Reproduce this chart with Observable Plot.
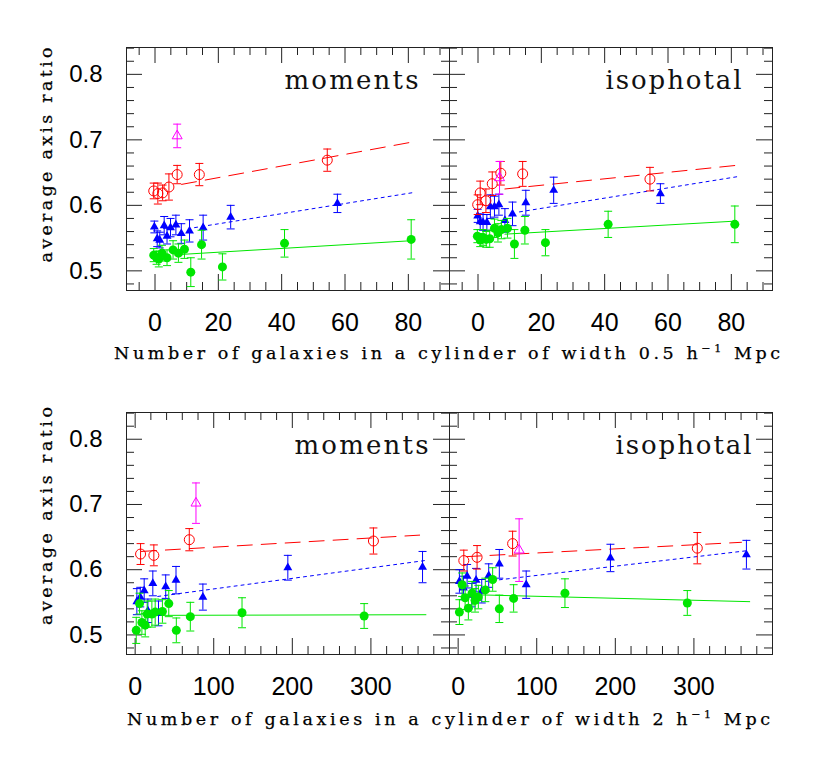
<!DOCTYPE html>
<html><head><meta charset="utf-8">
<script src="https://cdn.jsdelivr.net/npm/d3@7"></script>
<script src="https://cdn.jsdelivr.net/npm/@observablehq/plot@0.6"></script>
<style>body{margin:0;background:#fff}#chart{width:830px}#chart svg{display:block}</style>
</head><body><div id="chart"></div>
<script>
const panels = ["moments", "isophotal"];

// ---- Top row: cylinder of width 0.5 h^-1 Mpc  ([x, y, err]) ----
const top_moments_red = [[-0.4,0.622,0.012],[0.9,0.618,0.016],[2.4,0.619,0.012],[4.4,0.628,0.020],[7.0,0.647,0.014],[14.0,0.647,0.017],[54.4,0.669,0.017]];
const top_moments_magenta = [[7.0,0.706,0.018]];
const top_moments_blue = [[-0.2,0.567,0.009],[0.7,0.549,0.012],[1.5,0.547,0.012],[2.9,0.569,0.014],[3.8,0.553,0.012],[4.9,0.566,0.014],[6.6,0.570,0.015],[8.3,0.557,0.015],[10.9,0.561,0.017],[15.2,0.566,0.019],[23.9,0.582,0.018],[57.6,0.603,0.014]];
const top_moments_green = [[-0.4,0.524,0.010],[0.5,0.520,0.010],[1.2,0.518,0.012],[2.2,0.527,0.012],[3.8,0.520,0.012],[5.7,0.532,0.014],[7.4,0.527,0.014],[9.3,0.533,0.014],[11.3,0.498,0.022],[14.7,0.540,0.022],[21.3,0.506,0.020],[40.9,0.542,0.021],[80.9,0.548,0.030]];
const top_moments_fit_red = [[8.4,0.632],[80.5,0.696]];
const top_moments_fit_blue = [[12.5,0.566],[82.2,0.620]];
const top_moments_fit_green = [[8.1,0.525],[80.9,0.546]];

const top_isophotal_red = [[-0.1,0.601,0.015],[0.7,0.619,0.018],[2.5,0.607,0.018],[4.5,0.633,0.018],[7.2,0.649,0.018],[14.1,0.648,0.019],[54.3,0.640,0.018]];
const top_isophotal_magenta = [[6.8,0.642,0.025]];
const top_isophotal_blue = [[-0.1,0.584,0.010],[0.7,0.575,0.012],[1.6,0.574,0.012],[2.8,0.574,0.012],[3.9,0.598,0.018],[5.2,0.598,0.016],[6.6,0.601,0.016],[8.5,0.577,0.018],[10.9,0.587,0.018],[15.1,0.604,0.019],[23.9,0.623,0.020],[57.6,0.618,0.015]];
const top_isophotal_green = [[-0.2,0.553,0.010],[0.7,0.547,0.010],[1.6,0.551,0.012],[2.6,0.548,0.012],[3.7,0.549,0.013],[5.2,0.565,0.014],[6.3,0.558,0.014],[7.4,0.563,0.014],[9.3,0.565,0.015],[11.5,0.541,0.022],[14.8,0.562,0.021],[21.3,0.543,0.020],[41.1,0.571,0.020],[81.1,0.571,0.028]];
const top_isophotal_fit_red = [[8.5,0.625],[81.5,0.661]];
const top_isophotal_fit_blue = [[13.1,0.590],[82.2,0.644]];
const top_isophotal_fit_green = [[8.5,0.556],[81.5,0.576]];

// ---- Bottom row: cylinder of width 2 h^-1 Mpc ----
const bot_moments_red = [[6.9,0.624,0.016],[23.8,0.622,0.016],[68.9,0.646,0.017],[303.2,0.644,0.020]];
const bot_moments_magenta = [[77.4,0.702,0.031]];
const bot_moments_blue = [[2.2,0.551,0.020],[6.5,0.558,0.015],[11.5,0.568,0.018],[16.2,0.537,0.018],[22.5,0.579,0.019],[29.7,0.533,0.019],[38.9,0.574,0.018],[52.0,0.584,0.021],[86.2,0.558,0.020],[194.3,0.603,0.019],[365.7,0.604,0.024]];
const bot_moments_green = [[1.4,0.507,0.020],[5.6,0.548,0.016],[8.6,0.519,0.018],[12.8,0.515,0.018],[15.3,0.532,0.020],[21.3,0.532,0.020],[25.5,0.535,0.020],[34.7,0.536,0.018],[42.8,0.548,0.020],[52.4,0.507,0.019],[70.2,0.528,0.022],[136.0,0.534,0.023],[291.4,0.529,0.019]];
const bot_moments_fit_red = [[8,0.628],[362,0.653]];
const bot_moments_fit_blue = [[28.8,0.559],[368.6,0.614]];
const bot_moments_fit_green = [[30,0.530],[370,0.531]];

const bot_isophotal_red = [[7.2,0.614,0.016],[24.1,0.619,0.018],[69.3,0.640,0.019],[304.3,0.633,0.024]];
const bot_isophotal_magenta = [[77.6,0.630,0.048]];
const bot_isophotal_blue = [[1.6,0.582,0.018],[6.7,0.572,0.018],[11.4,0.590,0.018],[17.3,0.561,0.018],[22.8,0.584,0.018],[30.0,0.567,0.018],[38.9,0.591,0.018],[52.4,0.609,0.022],[86.6,0.577,0.021],[193.8,0.618,0.021],[366.8,0.623,0.022]];
const bot_isophotal_green = [[1.6,0.535,0.019],[5.1,0.577,0.018],[8.9,0.557,0.018],[13.0,0.541,0.018],[17.7,0.564,0.018],[21.5,0.553,0.018],[25.7,0.558,0.018],[34.6,0.569,0.018],[43.9,0.585,0.018],[52.4,0.540,0.021],[70.6,0.556,0.021],[135.9,0.564,0.022],[291.6,0.549,0.019]];
const bot_isophotal_fit_red = [[10,0.620],[360.5,0.642]];
const bot_isophotal_fit_blue = [[34.7,0.582],[366.8,0.629]];
const bot_isophotal_fit_green = [[8,0.562],[371,0.551]];

// ---- tick values ----
const yMajor = [0.5, 0.6, 0.7, 0.8];
const yMinor = [0.48,0.52,0.54,0.56,0.58,0.62,0.64,0.66,0.68,0.72,0.74,0.76,0.78,0.82,0.84];
const topXMajor = [0, 20, 40, 60, 80];
const topXMinor = [-5,5,10,15,25,30,35,45,50,55,65,70,75,85,90];
const botXMajor = [0, 100, 200, 300];
const botXMinor = [20,40,60,80,120,140,160,180,220,240,260,280,320,340,360,380];

const topTitle = ["Number of galaxies in a cylinder of width 0.5 h", "\u22121", " Mpc"];
const botTitle = ["Number of galaxies in a cylinder of width 2 h", "\u22121", " Mpc"];
const yTitle = "average axis ratio";

const colors = {red: "#ff0000", blue: "#0000ff", green: "#00e600", magenta: "#ff00ff"};

const toPts = (arr, panel) => arr.map(([x, y, e]) => ({panel, x, y, e}));
const toFit = (arr, panel) => arr.map(([x, y]) => ({panel, x, y}));

const capSymbol = {draw(ctx, size) { const r = Math.sqrt(size / Math.PI); ctx.moveTo(-r, 0); ctx.lineTo(r, 0); }};

const W = 830, ML = 126, MR = 58;

function makeRow(cfg) {
  const H = cfg.height - cfg.marginTop - cfg.marginBottom;
  const FW = (W - ML - MR) / 2;
  const ink = "#222";
  const s = cfg.series;
  const pts = k => [...toPts(s.moments[k], "moments"), ...toPts(s.isophotal[k], "isophotal")];
  const fit = k => [...toFit(s.moments["fit_" + k], "moments"), ...toFit(s.isophotal["fit_" + k], "isophotal")];
  const errMarks = (data, c) => [
    Plot.ruleX(data, {x: "x", y1: d => d.y - d.e, y2: d => d.y + d.e, fx: "panel", stroke: c, strokeWidth: 1}),
    Plot.dot(data, {x: "x", y: d => d.y - d.e, fx: "panel", symbol: capSymbol, r: 4, fill: "none", stroke: c, strokeWidth: 1}),
    Plot.dot(data, {x: "x", y: d => d.y + d.e, fx: "panel", symbol: capSymbol, r: 4, fill: "none", stroke: c, strokeWidth: 1})
  ];
  const marks = [
    // inward ticks
    Plot.tickX(cfg.xMinor, {x: d => d, insetTop: H - 8, stroke: ink}),
    Plot.tickX(cfg.xMajor, {x: d => d, insetTop: H - 16, stroke: ink}),
    Plot.tickX(cfg.xMinor, {x: d => d, insetBottom: H - 8, stroke: ink}),
    Plot.tickX(cfg.xMajor, {x: d => d, insetBottom: H - 16, stroke: ink}),
    Plot.tickY(yMinor, {y: d => d, insetRight: FW - 8, stroke: ink}),
    Plot.tickY(yMajor, {y: d => d, insetRight: FW - 16, stroke: ink}),
    Plot.tickY(yMinor, {y: d => d, insetLeft: FW - 8, stroke: ink}),
    Plot.tickY(yMajor, {y: d => d, insetLeft: FW - 16, stroke: ink}),
    Plot.frame({stroke: ink, strokeWidth: 1}),
    Plot.axisX({ticks: cfg.xMajor, tickSize: 0, tickPadding: 23, fontSize: 25, label: null, tickFormat: d => String(d)}),
    Plot.axisY({ticks: yMajor, tickSize: 0, tickPadding: 24, fontSize: 24, label: null, tickFormat: d3.format(".1f")}),
    // fits
    Plot.line(fit("green"), {x: "x", y: "y", fx: "panel", z: "panel", stroke: colors.green, strokeWidth: 1}),
    Plot.line(fit("blue"), {x: "x", y: "y", fx: "panel", z: "panel", stroke: colors.blue, strokeWidth: 1, strokeDasharray: "3,4"}),
    Plot.line(fit("red"), {x: "x", y: "y", fx: "panel", z: "panel", stroke: colors.red, strokeWidth: 1, strokeDasharray: "15,9"}),
    // blue triangles
    ...errMarks(pts("blue"), colors.blue),
    Plot.dot(pts("blue"), {x: "x", y: "y", fx: "panel", symbol: "triangle", r: 3.3, fill: colors.blue, stroke: "none"}),
    // red open circles
    ...errMarks(pts("red"), colors.red),
    Plot.dot(pts("red"), {x: "x", y: "y", fx: "panel", r: 5, fill: "none", stroke: colors.red, strokeWidth: 1}),
    // green filled circles
    ...errMarks(pts("green"), colors.green),
    Plot.dot(pts("green"), {x: "x", y: "y", fx: "panel", r: 4.5, fill: colors.green, stroke: "none"}),
    // magenta open triangle
    ...errMarks(pts("magenta"), colors.magenta),
    Plot.dot(pts("magenta"), {x: "x", y: "y", fx: "panel", symbol: "triangle", r: 3.7, fill: "none", stroke: colors.magenta, strokeWidth: 1}),
    // panel labels
    Plot.text(panels, {fx: d => d, text: d => d, frameAnchor: "top-right", dx: cfg.labelDx, dy: 33, textAnchor: "end", lineAnchor: "middle", fontFamily: "DejaVu Serif", fontSize: 26, fill: "#111"})
  ];
  const svg = Plot.plot({
    width: W, height: cfg.height,
    marginLeft: ML, marginRight: MR, marginTop: cfg.marginTop, marginBottom: cfg.marginBottom,
    style: {fontFamily: "Liberation Sans", background: "white", color: "#000"},
    x: {domain: cfg.xDomain},
    y: {domain: [0.47, 0.841]},
    fx: {domain: panels, padding: 0, axis: null},
    marks
  });
  const sel = d3.select(svg);
  sel.selectAll("text").each(function() {
    const t = this.textContent;
    if (t === "moments") { this.setAttribute("textLength", 134); this.setAttribute("lengthAdjust", "spacing"); }
    if (t === "isophotal") { this.setAttribute("textLength", 136); this.setAttribute("lengthAdjust", "spacing"); }
  });
  // x title
  const xt = sel.append("text")
    .attr("x", cfg.titleX).attr("y", cfg.titleY).attr("text-anchor", "middle")
    .attr("font-family", "DejaVu Serif").attr("font-size", 17.5).attr("fill", "#000")
    .attr("stroke", "#000").attr("stroke-width", 0.25)
    .attr("textLength", cfg.titleLen).attr("lengthAdjust", "spacing");
  xt.append("tspan").text(cfg.title[0]);
  xt.append("tspan").attr("dy", -7).attr("font-size", 11).text(cfg.title[1]);
  xt.append("tspan").attr("dy", 7).text(cfg.title[2]);
  // y title
  sel.append("text")
    .attr("transform", `translate(52,${cfg.yTitleY}) rotate(-90)`)
    .attr("text-anchor", "middle")
    .attr("font-family", "DejaVu Serif").attr("font-size", 17.5).attr("fill", "#000")
    .attr("stroke", "#000").attr("stroke-width", 0.25)
    .attr("textLength", cfg.yTitleLen).attr("lengthAdjust", "spacing")
    .text(yTitle);
  return svg;
}

const chart = document.getElementById("chart");
chart.appendChild(makeRow({
  height: 389, marginTop: 47, marginBottom: 99,
  xDomain: [-9, 93], xMajor: topXMajor, xMinor: topXMinor, labelDx: -31,
  series: {
    moments: {red: top_moments_red, magenta: top_moments_magenta, blue: top_moments_blue, green: top_moments_green,
      fit_red: top_moments_fit_red, fit_blue: top_moments_fit_blue, fit_green: top_moments_fit_green},
    isophotal: {red: top_isophotal_red, magenta: top_isophotal_magenta, blue: top_isophotal_blue, green: top_isophotal_green,
      fit_red: top_isophotal_fit_red, fit_blue: top_isophotal_fit_blue, fit_green: top_isophotal_fit_green}
  },
  title: topTitle, titleX: 447, titleY: 359, titleLen: 666, yTitleY: 155, yTitleLen: 215
}));
chart.appendChild(makeRow({
  height: 389, marginTop: 23, marginBottom: 124,
  xDomain: [-11, 400], xMajor: botXMajor, xMinor: botXMinor, labelDx: -21,
  series: {
    moments: {red: bot_moments_red, magenta: bot_moments_magenta, blue: bot_moments_blue, green: bot_moments_green,
      fit_red: bot_moments_fit_red, fit_blue: bot_moments_fit_blue, fit_green: bot_moments_fit_green},
    isophotal: {red: bot_isophotal_red, magenta: bot_isophotal_magenta, blue: bot_isophotal_blue, green: bot_isophotal_green,
      fit_red: bot_isophotal_fit_red, fit_blue: bot_isophotal_fit_blue, fit_green: bot_isophotal_fit_green}
  },
  title: botTitle, titleX: 448.5, titleY: 336, titleLen: 643, yTitleY: 127, yTitleLen: 218
}));
</script>
</body></html>
